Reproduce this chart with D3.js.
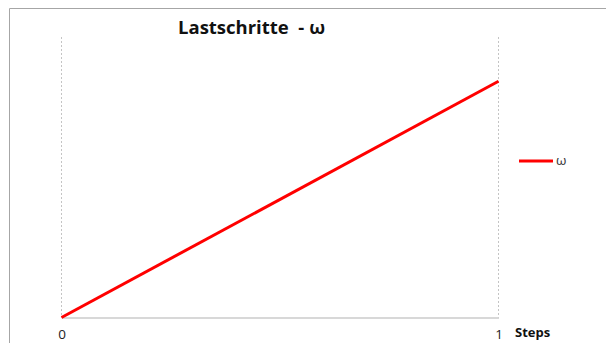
<!DOCTYPE html>
<html>
<head>
<meta charset="utf-8">
<script src="https://cdn.jsdelivr.net/npm/d3@7"></script>
<style>
  html, body { margin: 0; padding: 0; background: #fff; }
  svg { display: block; }
</style>
</head>
<body>
<svg id="chart" width="606" height="343"></svg>
<script>
// Load steps and omega values
const steps = [0, 1];
const omega = [0, 1];
const xTickLabels = ["0", "1"];
const seriesName = "ω";
const chartTitle = "Lastschritte  - ω";
const xAxisTitle = "Steps";

const svg = d3.select("#chart");
const font = "'Open Sans', 'Liberation Sans', sans-serif";

// Chart area frame
svg.append("line").attr("x1", 9.5).attr("y1", 8.5).attr("x2", 606).attr("y2", 8.5)
  .attr("stroke", "#a6a6a6").attr("stroke-width", 1);
svg.append("line").attr("x1", 9.5).attr("y1", 8.5).attr("x2", 9.5).attr("y2", 343)
  .attr("stroke", "#a6a6a6").attr("stroke-width", 1);

const x = d3.scaleLinear().domain([0, 1]).range([61.5, 498.5]);
const y = d3.scaleLinear().domain([0, 1.2]).range([317.5, 34]);

// Vertical dotted gridlines at each step
svg.append("g").selectAll("line").data(steps).join("line")
  .attr("x1", d => x(d)).attr("x2", d => x(d))
  .attr("y1", 37).attr("y2", y(0))
  .attr("stroke", "#c4c4c4").attr("stroke-width", 1)
  .attr("stroke-dasharray", "2,2");

// Horizontal axis
const xAxis = d3.axisBottom(x).tickValues(steps)
  .tickFormat((d, i) => xTickLabels[i]).tickSize(0).tickPadding(12);
const gx = svg.append("g").attr("transform", `translate(0,${y(0)})`).call(xAxis);
gx.select(".domain").attr("stroke", "#cbcbcb").attr("stroke-width", 1.5);
gx.selectAll("text").attr("font-family", font).attr("font-size", 13.5).attr("fill", "#222");

// Omega line
const line = d3.line().x((d, i) => x(steps[i])).y(d => y(d));
svg.append("path").datum(omega)
  .attr("d", line)
  .attr("fill", "none").attr("stroke", "#ff0000").attr("stroke-width", 3);

// Title
svg.append("text").attr("x", 178).attr("y", 34)
  .attr("font-family", font).style("white-space", "pre")
  .attr("font-weight", "bold").attr("font-size", 18.5).attr("fill", "#111")
  .text(chartTitle);

// Axis title
svg.append("text").attr("x", 515).attr("y", 337)
  .attr("font-family", font).attr("font-weight", "bold")
  .attr("font-size", 13).attr("fill", "#111")
  .text(xAxisTitle);

// Legend
const lg = svg.append("g").attr("transform", "translate(519,161)");
lg.append("line").attr("x1", 0).attr("x2", 34).attr("y1", 0).attr("y2", 0)
  .attr("stroke", "#ff0000").attr("stroke-width", 3);
lg.append("text").attr("x", 37).attr("y", 4)
  .attr("font-family", font).attr("font-size", 13.5).attr("fill", "#333")
  .text(seriesName);
</script>
</body>
</html>
